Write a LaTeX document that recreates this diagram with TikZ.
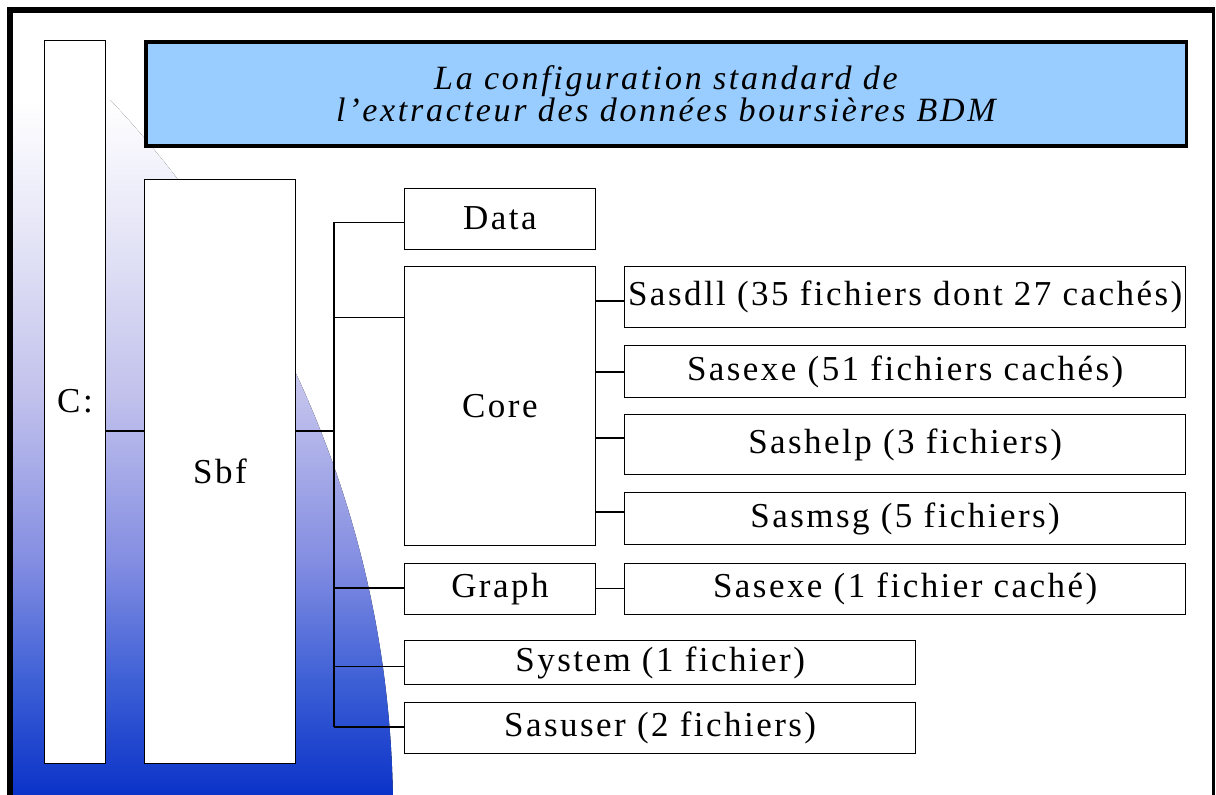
\documentclass[tikz,border=0pt]{standalone}
\usepackage{fontspec}
\setmainfont{Liberation Serif}
\newfontfamily\boxfont[LetterSpace=7]{Liberation Serif}
\newfontfamily\titlefont[LetterSpace=8]{Liberation Serif}
\definecolor{titlefill}{RGB}{153,204,255}
\definecolor{gA}{RGB}{255,255,255}
\definecolor{gB}{RGB}{226,226,246}
\definecolor{gC}{RGB}{192,192,236}
\definecolor{gD}{RGB}{132,142,226}
\definecolor{gE}{RGB}{62,96,214}
\definecolor{gF}{RGB}{10,50,200}
\tikzset{
  fbox/.style={draw, line width=1.3pt, fill=white, inner sep=0pt, anchor=north west,
    font=\boxfont\fontsize{35}{40}\selectfont},
  conn/.style={line width=1.3pt},
}
\begin{document}
\begin{tikzpicture}[x=1pt,y=-1pt]
\useasboundingbox (0,0) rectangle (1216,795);
\fill[white] (0,0) rectangle (1216,795);
% background shading
\begin{scope}
  \clip (10,10) rectangle (1213,795);
  \clip (-646,812.5) circle [radius=1039pt];
  \fill[top color=gA,bottom color=gB] (0,100) rectangle (700,250);
  \fill[top color=gB,bottom color=gC] (0,249.5) rectangle (700,400);
  \fill[top color=gC,bottom color=gD] (0,399.5) rectangle (700,560);
  \fill[top color=gD,bottom color=gE] (0,559.5) rectangle (700,680);
  \fill[top color=gE,bottom color=gF] (0,679.5) rectangle (700,796);
\end{scope}
% frame
\draw[line width=6pt] (10.3,795) -- (10.3,9.7) -- (1215,9.7);
\draw[line width=3pt] (1213.5,8) -- (1213.5,795);
% title
\node[draw, line width=3.5pt, fill=titlefill, anchor=north west, minimum width=1040.5pt,
  minimum height=104pt, inner sep=0pt, align=center,
  font=\titlefont\itshape\fontsize{34}{28}\selectfont] (title) at (144,40)
  {La configuration standard de\\l’extracteur des données boursières BDM};
% boxes
\node[fbox, minimum width=60.7pt, minimum height=723pt] (C) at (44,39.5) {C:};
\node[fbox, minimum width=150.5pt, minimum height=584pt] (Sbf) at (144,178.5) {Sbf};
\node[fbox, minimum width=190.5pt, minimum height=61pt] (Data) at (404,187.5) {Data};
\node[fbox, minimum width=190.5pt, minimum height=279pt] (Core) at (404,266) {Core};
\node[fbox, minimum width=190.5pt, minimum height=51pt] (Graph) at (404,562.5) {Graph};
\node[fbox, minimum width=511pt, minimum height=44pt] (System) at (404,640) {System (1 fichier)};
\node[fbox, minimum width=511pt, minimum height=51pt] (Sasuser) at (404,702) {Sasuser (2 fichiers)};
\node[fbox, minimum width=561pt, minimum height=61pt] (Sasdll) at (624,265.5) {Sasdll (35 fichiers dont 27 cachés)};
\node[fbox, minimum width=561pt, minimum height=52pt] (Sasexe) at (624,345) {Sasexe (51 fichiers cachés)};
\node[fbox, minimum width=561pt, minimum height=60pt] (Sashelp) at (624,414) {Sashelp (3 fichiers)};
\node[fbox, minimum width=561pt, minimum height=52pt] (Sasmsg) at (624,492) {Sasmsg (5 fichiers)};
\node[fbox, minimum width=561pt, minimum height=51pt] (Sasexeb) at (624,562.5) {Sasexe (1 fichier caché)};
% connectors
\coordinate (j) at (334,431);
\coordinate (b1) at (334,222.3);
\coordinate (b2) at (334,317.3);
\coordinate (b3) at (334,588);
\coordinate (b4) at (334,666.7);
\coordinate (b5) at (334,727);
\draw[conn] (C.east |- j) -- (Sbf.west |- j);
\draw[conn] (Sbf.east |- j) -- (j);
\draw[conn] (b1) -- (b5);
\draw[conn] (b1) -- (b1 -| Data.west);
\draw[conn] (b2) -- (b2 -| Core.west);
\draw[conn] (b3) -- (b3 -| Graph.west);
\draw[conn] (b4) -- (b4 -| System.west);
\draw[conn] (b5) -- (b5 -| Sasuser.west);
\coordinate (k1) at (624,301);
\coordinate (k2) at (624,372);
\coordinate (k3) at (624,438);
\coordinate (k4) at (624,512);
\draw[conn] (k1 -| Core.east) -- (k1 -| Sasdll.west);
\draw[conn] (k2 -| Core.east) -- (k2 -| Sasexe.west);
\draw[conn] (k3 -| Core.east) -- (k3 -| Sashelp.west);
\draw[conn] (k4 -| Core.east) -- (k4 -| Sasmsg.west);
\draw[conn] (Graph.east) -- (Sasexeb.west);
\end{tikzpicture}
\end{document}
